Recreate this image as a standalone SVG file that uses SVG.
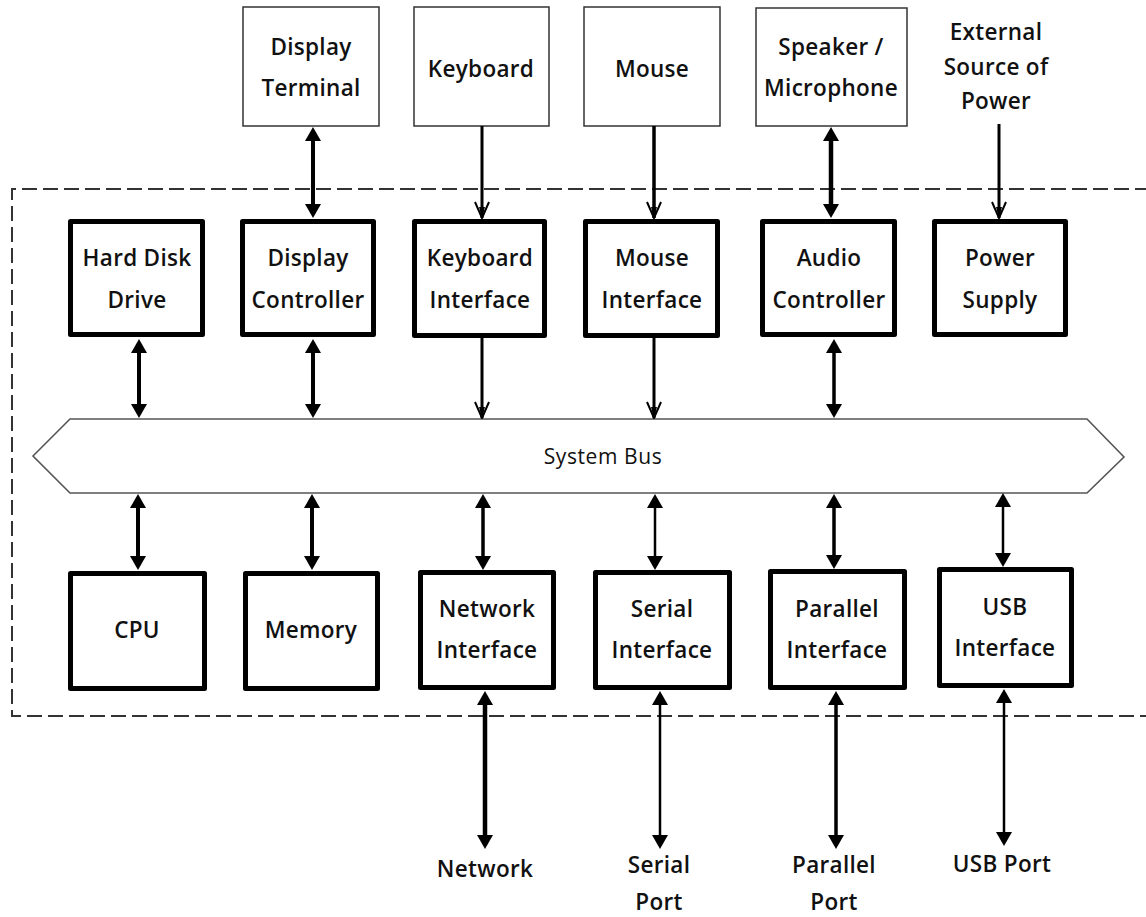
<svg xmlns="http://www.w3.org/2000/svg" width="1146" height="917" viewBox="0 0 1146 917">
  <style>
    .ext { fill: #fff; stroke: #333; stroke-width: 1.5; }
    .box { fill: #fff; stroke: #000; stroke-width: 5; stroke-linejoin: round; }
    .lbl { font-family: "Open Sans", "Noto Sans", "Liberation Sans", sans-serif; font-size: 22.5px; font-weight: 600; letter-spacing: 0.3px; fill: #111; text-anchor: middle; }
    .bus { fill: #fff; stroke: #555; stroke-width: 1.6; }
    .buslbl { font-family: "Open Sans", "Noto Sans", "Liberation Sans", sans-serif; font-size: 21px; font-weight: 500; letter-spacing: 0.6px; fill: #111; text-anchor: middle; }
    .frame { fill: none; stroke: #333; stroke-width: 2; stroke-dasharray: 15 6; }
    .bi { fill: none; stroke: #000; marker-start: url(#solid); marker-end: url(#solid); }
    .one { fill: none; stroke: #000; marker-end: url(#open); }
  </style>
  <defs>
    <marker id="solid" markerUnits="userSpaceOnUse" viewBox="0 0 14 16" markerWidth="14" markerHeight="16" refX="6" refY="8" orient="auto-start-reverse">
      <path d="M0,0 L14,8 L0,16 Z" fill="#000"/>
    </marker>
    <marker id="open" markerUnits="userSpaceOnUse" viewBox="0 0 18 16" markerWidth="18" markerHeight="16" refX="17" refY="8" orient="auto">
      <path d="M1,1 L17,8 L1,15" fill="none" stroke="#000" stroke-width="2"/>
      <path d="M6,5 L17,8 L6,11 Z" fill="#000"/>
    </marker>
  </defs>

  <!-- computer enclosure boundary (open to the right) -->
  <path class="frame" d="M1150,189 L12,189 L12,716 L1150,716"/>

  <!-- external devices -->
  <g id="display-terminal">
    <rect class="ext" x="243" y="7" width="136" height="119"/>
    <text class="lbl" x="311" y="55">Display</text>
    <text class="lbl" x="311" y="96">Terminal</text>
  </g>
  <g id="keyboard">
    <rect class="ext" x="414" y="7" width="135" height="119"/>
    <text class="lbl" x="481" y="77">Keyboard</text>
  </g>
  <g id="mouse">
    <rect class="ext" x="584" y="7" width="136" height="119"/>
    <text class="lbl" x="652" y="77">Mouse</text>
  </g>
  <g id="speaker-microphone">
    <rect class="ext" x="756" y="8" width="151" height="118"/>
    <text class="lbl" x="831" y="55">Speaker /</text>
    <text class="lbl" x="831" y="96">Microphone</text>
  </g>
  <g id="external-power">
    <text class="lbl" x="996" y="40">External</text>
    <text class="lbl" x="996" y="75">Source of</text>
    <text class="lbl" x="996" y="109">Power</text>
  </g>

  <!-- internal components, upper row -->
  <g id="hard-disk">
    <rect class="box" x="70.5" y="221.5" width="132" height="113"/>
    <text class="lbl" x="137" y="266">Hard Disk</text>
    <text class="lbl" x="137" y="308">Drive</text>
  </g>
  <g id="display-controller">
    <rect class="box" x="242.5" y="221.5" width="131" height="113"/>
    <text class="lbl" x="308" y="266">Display</text>
    <text class="lbl" x="308" y="308">Controller</text>
  </g>
  <g id="keyboard-interface">
    <rect class="box" x="414.5" y="221.5" width="130" height="114"/>
    <text class="lbl" x="480" y="266">Keyboard</text>
    <text class="lbl" x="480" y="308">Interface</text>
  </g>
  <g id="mouse-interface">
    <rect class="box" x="585.5" y="221.5" width="132" height="114"/>
    <text class="lbl" x="652" y="266">Mouse</text>
    <text class="lbl" x="652" y="308">Interface</text>
  </g>
  <g id="audio-controller">
    <rect class="box" x="762.5" y="221.5" width="132" height="113"/>
    <text class="lbl" x="829" y="266">Audio</text>
    <text class="lbl" x="829" y="308">Controller</text>
  </g>
  <g id="power-supply">
    <rect class="box" x="934.5" y="221.5" width="131" height="113"/>
    <text class="lbl" x="1000" y="266">Power</text>
    <text class="lbl" x="1000" y="308">Supply</text>
  </g>

  <!-- system bus -->
  <g id="system-bus">
    <polygon class="bus" points="33,456 70,419 1087,419 1124,457 1087,493 70,493"/>
    <text class="buslbl" x="603" y="464">System Bus</text>
  </g>

  <!-- internal components, lower row -->
  <g id="cpu">
    <rect class="box" x="70.5" y="573.5" width="134" height="115"/>
    <text class="lbl" x="137" y="638">CPU</text>
  </g>
  <g id="memory">
    <rect class="box" x="245.5" y="573.5" width="132" height="115"/>
    <text class="lbl" x="311" y="638">Memory</text>
  </g>
  <g id="network-interface">
    <rect class="box" x="420.5" y="572.5" width="133" height="115"/>
    <text class="lbl" x="487" y="617">Network</text>
    <text class="lbl" x="487" y="658">Interface</text>
  </g>
  <g id="serial-interface">
    <rect class="box" x="595.5" y="572.5" width="134" height="115"/>
    <text class="lbl" x="662" y="617">Serial</text>
    <text class="lbl" x="662" y="658">Interface</text>
  </g>
  <g id="parallel-interface">
    <rect class="box" x="770.5" y="571.5" width="134" height="116"/>
    <text class="lbl" x="837" y="617">Parallel</text>
    <text class="lbl" x="837" y="658">Interface</text>
  </g>
  <g id="usb-interface">
    <rect class="box" x="939.5" y="569.5" width="132" height="116"/>
    <text class="lbl" x="1005" y="615">USB</text>
    <text class="lbl" x="1005" y="656">Interface</text>
  </g>

  <!-- external port labels -->
  <g id="network">
    <text class="lbl" x="485" y="877">Network</text>
  </g>
  <g id="serial-port">
    <text class="lbl" x="659" y="873">Serial</text>
    <text class="lbl" x="659" y="910">Port</text>
  </g>
  <g id="parallel-port">
    <text class="lbl" x="834" y="873">Parallel</text>
    <text class="lbl" x="834" y="910">Port</text>
  </g>
  <g id="usb-port">
    <text class="lbl" x="1002" y="872">USB Port</text>
  </g>

  <!-- connectors -->
  <g id="connectors">
    <!-- devices to controllers -->
    <line class="bi" x1="313" y1="135" x2="313" y2="210" stroke-width="4"/>
    <line class="one" x1="482" y1="126" x2="482" y2="218" stroke-width="3"/>
    <line class="one" x1="654" y1="126" x2="654" y2="218" stroke-width="3.5"/>
    <line class="bi" x1="831" y1="135" x2="831" y2="210" stroke-width="4.5"/>
    <line class="one" x1="999" y1="124" x2="999" y2="218" stroke-width="3"/>

    <!-- upper row to bus -->
    <line class="bi" x1="139" y1="347" x2="139" y2="410" stroke-width="4"/>
    <line class="bi" x1="313" y1="347" x2="313" y2="410" stroke-width="4"/>
    <line class="one" x1="482" y1="338" x2="482" y2="418" stroke-width="3"/>
    <line class="one" x1="654" y1="338" x2="654" y2="418" stroke-width="3"/>
    <line class="bi" x1="834" y1="347" x2="834" y2="410" stroke-width="3.5"/>

    <!-- bus to lower row -->
    <line class="bi" x1="138" y1="502" x2="138" y2="562" stroke-width="4"/>
    <line class="bi" x1="312" y1="502" x2="312" y2="562" stroke-width="4"/>
    <line class="bi" x1="483" y1="502" x2="483" y2="562" stroke-width="3.5"/>
    <line class="bi" x1="655" y1="502" x2="655" y2="562" stroke-width="2.5"/>
    <line class="bi" x1="834" y1="502" x2="834" y2="561" stroke-width="3.5"/>
    <line class="bi" x1="1003" y1="501" x2="1003" y2="559" stroke-width="2.5"/>

    <!-- interfaces to outside ports -->
    <line class="bi" x1="485" y1="699" x2="485" y2="841" stroke-width="4.5"/>
    <line class="bi" x1="660" y1="699" x2="660" y2="841" stroke-width="2.5"/>
    <line class="bi" x1="836" y1="699" x2="836" y2="841" stroke-width="3.5"/>
    <line class="bi" x1="1004" y1="697" x2="1004" y2="838" stroke-width="2.5"/>
  </g>
</svg>
